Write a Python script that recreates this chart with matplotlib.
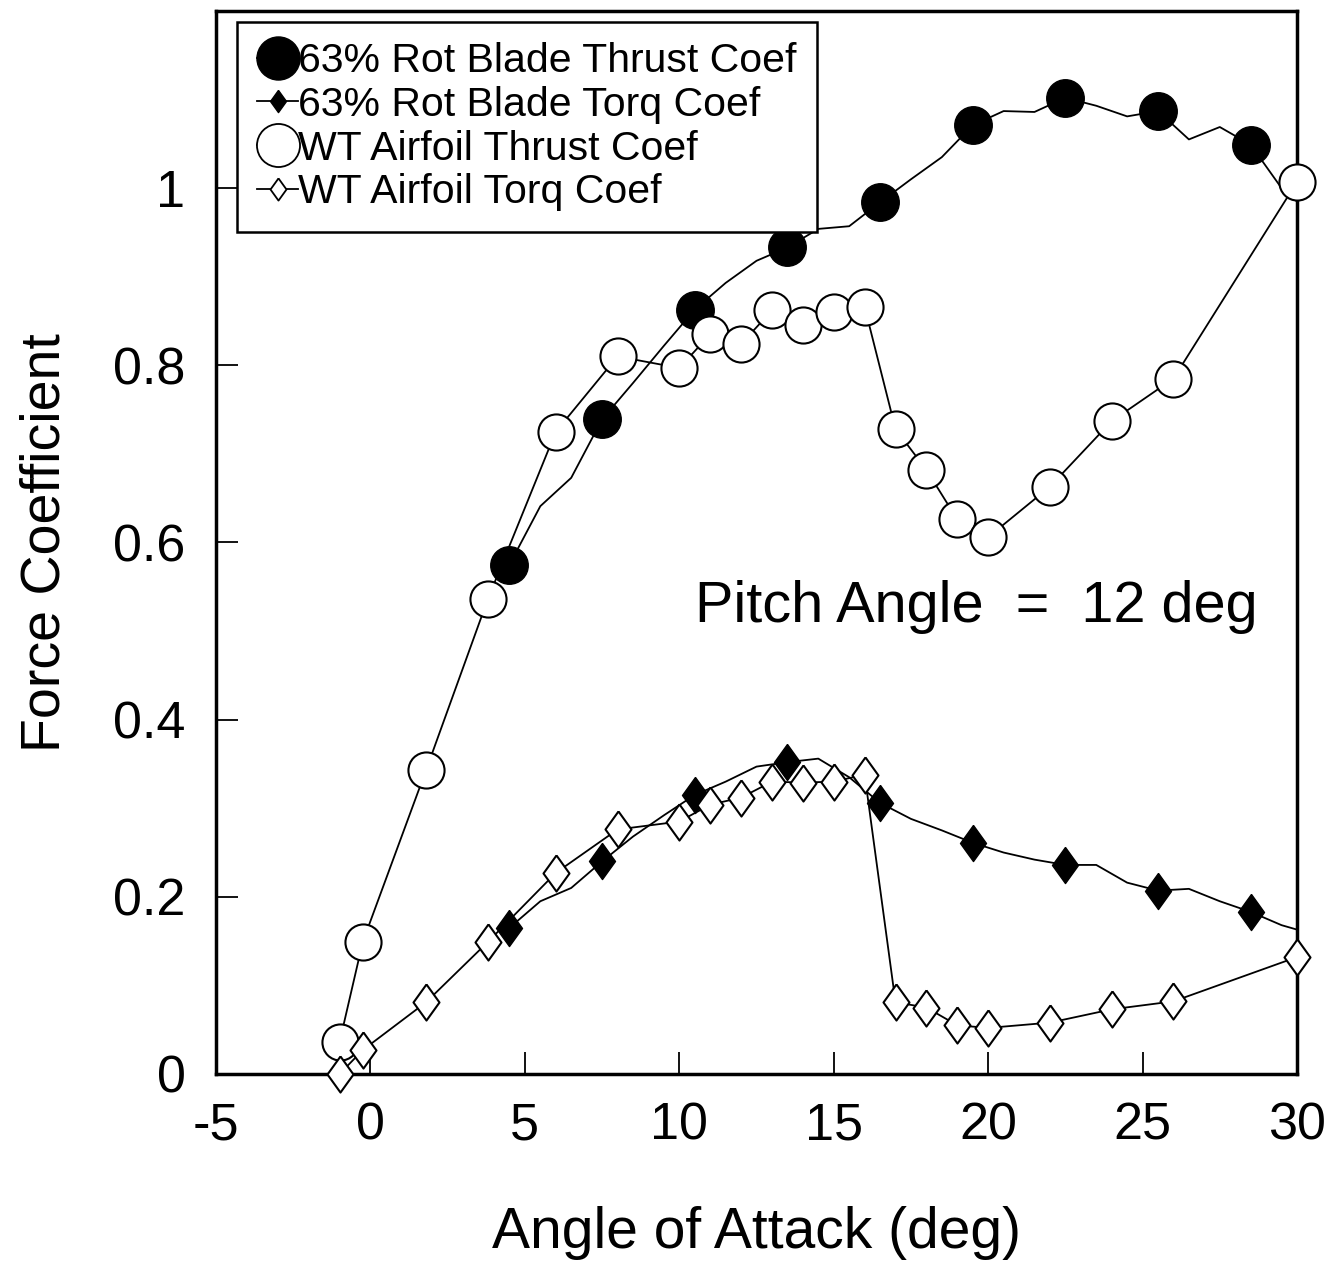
import matplotlib
matplotlib.use("Agg")
import matplotlib.pyplot as plt
from matplotlib.lines import Line2D

plt.rcParams['font.family'] = ['Liberation Sans', 'DejaVu Sans']

# ---- data ----
# 63% rotating blade (line sampled every 1 deg, markers every 3 deg)
rot_x = [4.5, 5.5, 6.5, 7.5, 8.5, 9.5, 10.5, 11.5, 12.5, 13.5, 14.5, 15.5, 16.5,
         17.5, 18.5, 19.5, 20.5, 21.5, 22.5, 23.5, 24.5, 25.5, 26.5, 27.5, 28.5,
         29.5, 30.0]
rot_thrust = [0.575, 0.641, 0.673, 0.739, 0.780, 0.822, 0.863, 0.893, 0.918, 0.933,
              0.954, 0.957, 0.984, 1.010, 1.035, 1.071, 1.087, 1.086, 1.102, 1.093,
              1.081, 1.087, 1.055, 1.069, 1.049, 1.000, 0.985]
rot_torq = [0.165, 0.195, 0.210, 0.240, 0.268, 0.292, 0.315, 0.330, 0.347, 0.352,
            0.356, 0.335, 0.306, 0.288, 0.275, 0.261, 0.250, 0.242, 0.236, 0.236,
            0.216, 0.207, 0.209, 0.195, 0.183, 0.168, 0.163]

# wind tunnel airfoil
wt_x = [-1.0, -0.25, 1.8, 3.8, 6.0, 8.0, 10.0, 11.0, 12.0, 13.0, 14.0, 15.0, 16.0,
        17.0, 18.0, 19.0, 20.0, 22.0, 24.0, 26.0, 30.0]
wt_thrust = [0.036, 0.149, 0.343, 0.536, 0.725, 0.810, 0.797, 0.835, 0.824, 0.862,
             0.846, 0.860, 0.866, 0.728, 0.682, 0.626, 0.606, 0.663, 0.737, 0.785,
             1.007]
wt_torq = [0.000, 0.027, 0.081, 0.149, 0.227, 0.276, 0.285, 0.304, 0.312, 0.330,
           0.329, 0.330, 0.338, 0.081, 0.075, 0.055, 0.052, 0.058, 0.073, 0.082,
           0.132]

labels = ["63% Rot Blade Thrust Coef", "63% Rot Blade Torq Coef",
          "WT Airfoil Thrust Coef", "WT Airfoil Torq Coef"]
x_ticks = [-5, 0, 5, 10, 15, 20, 25, 30]
y_ticks = [0, 0.2, 0.4, 0.6, 0.8, 1.0]
y_tick_labels = ["0", "0.2", "0.4", "0.6", "0.8", "1"]

# ---- figure ----
fig = plt.figure(figsize=(13.27, 12.61), dpi=100)
ax = fig.add_axes([0.1628, 0.1483, 0.8146, 0.843])

diamond = [(0, 1), (0.72, 0), (0, -1), (-0.72, 0), (0, 1)]
lw = 1.3
mk_idx = list(range(0, 25, 3))
ax.plot(rot_x, rot_thrust, color='black', lw=lw, marker='o', ms=27,
        mfc='black', mec='black', markevery=mk_idx, zorder=3)
ax.plot(rot_x, rot_torq, color='black', lw=lw, marker=diamond, ms=26,
        mfc='black', mec='black', markevery=mk_idx, zorder=3)
ax.plot(wt_x, wt_thrust, color='black', lw=lw, marker='o', ms=26,
        mfc='white', mec='black', mew=1.5, zorder=4, clip_on=False)
ax.plot(wt_x, wt_torq, color='black', lw=lw, marker=diamond, ms=26,
        mfc='white', mec='black', mew=1.5, zorder=4, clip_on=False)

ax.set_xlim(-5, 30)
ax.set_ylim(0, 1.2)
ax.set_xticks(x_ticks)
ax.set_xticklabels([str(v) for v in x_ticks])
ax.set_yticks(y_ticks)
ax.set_yticklabels(y_tick_labels)

for s in ax.spines.values():
    s.set_linewidth(2.5)
ax.tick_params(axis='both', direction='in', length=16, width=1.3,
               labelsize=37.5, top=False, right=False)
ax.tick_params(axis='x', pad=20)
ax.tick_params(axis='y', pad=22)

ax.set_xlabel("Angle of Attack (deg)", fontsize=41, labelpad=40)
ax.set_ylabel("Force Coefficient", fontsize=40, labelpad=30)

ax.text(10.5, 0.527, "Pitch Angle  =  12 deg", fontsize=41.5, ha='left', va='center')

handles = [
    Line2D([], [], color='black', lw=lw, marker='o', ms=31, mfc='black', mec='black'),
    Line2D([], [], color='black', lw=lw, marker=diamond, ms=16, mfc='black', mec='black'),
    Line2D([], [], color='black', lw=lw, marker='o', ms=31, mfc='white', mec='black', mew=1.3),
    Line2D([], [], color='black', lw=lw, marker=diamond, ms=16, mfc='white', mec='black', mew=1.3),
]
leg = ax.legend(handles, labels, loc='upper left', bbox_to_anchor=(0.019, 0.99),
                borderaxespad=0, fontsize=29.5, frameon=True, fancybox=False,
                edgecolor='black', framealpha=1, labelspacing=0.14,
                handlelength=1.0, handletextpad=0.0, borderpad=0.5,
                numpoints=1)
leg.get_frame().set_linewidth(1.8)
leg.set_zorder(10)

fig.savefig("out.png", dpi=100, facecolor='white')
